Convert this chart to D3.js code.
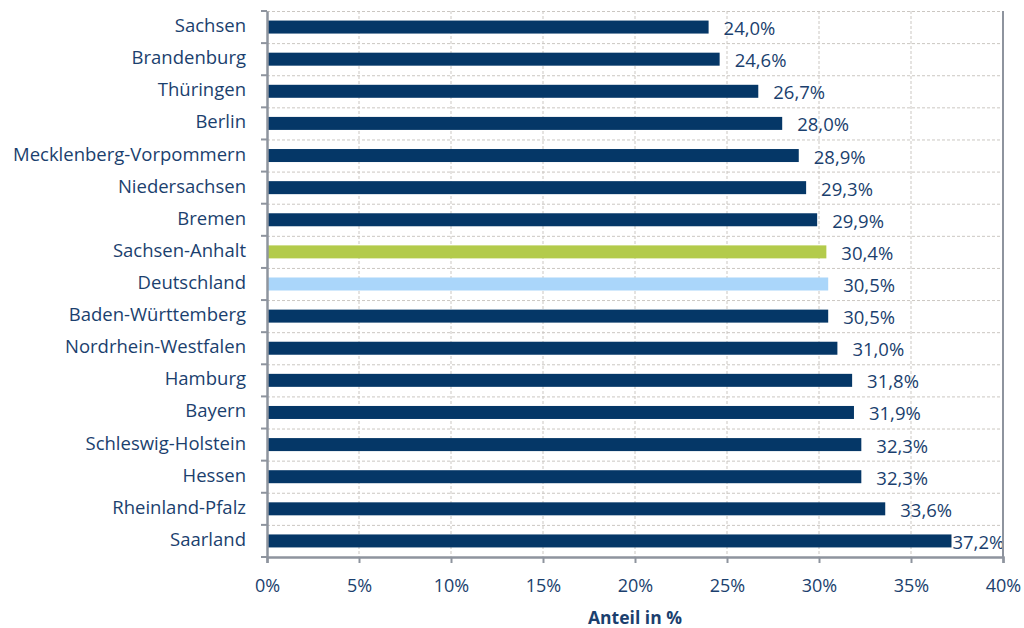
<!DOCTYPE html>
<html>
<head>
<meta charset="utf-8">
<script src="https://cdn.jsdelivr.net/npm/d3@7"></script>
<style>
  html, body { margin: 0; padding: 0; background: #fff; }
  svg { display: block; }
  text { font-family: "Open Sans", sans-serif; fill: #1b3f6e; }
</style>
</head>
<body>
<svg id="chart" width="1024" height="628"></svg>
<script>
// Anteil je Bundesland (in %)
const states = [
  "Sachsen", "Brandenburg", "Thüringen", "Berlin", "Mecklenberg-Vorpommern",
  "Niedersachsen", "Bremen", "Sachsen-Anhalt", "Deutschland", "Baden-Württemberg",
  "Nordrhein-Westfalen", "Hamburg", "Bayern", "Schleswig-Holstein", "Hessen",
  "Rheinland-Pfalz", "Saarland"
];
const shares = [
  24.0, 24.6, 26.7, 28.0, 28.9,
  29.3, 29.9, 30.4, 30.5, 30.5,
  31.0, 31.8, 31.9, 32.3, 32.3,
  33.6, 37.2
];
const xTicks = [0, 5, 10, 15, 20, 25, 30, 35, 40];
const highlight = { "Sachsen-Anhalt": "#b3cb4b", "Deutschland": "#aad6fa" };
const baseColor = "#053767";

const FONT = "'Open Sans', sans-serif";
const textColor = "#1b3f6e";
const svg = d3.select("#chart");
const m = { left: 267, right: 1003, top: 11, bottom: 557 };

const x = d3.scaleLinear().domain([0, 40]).range([m.left, m.right]);
const y = d3.scaleBand().domain(states).range([m.top, m.bottom]).paddingInner(0).paddingOuter(0);

const fmt = v => d3.format(".1f")(v).replace(".", ",") + "%";

// Gitternetz
const grid = svg.append("g");
grid.selectAll("line.v").data(xTicks.slice(1, -1)).join("line")
  .attr("x1", d => x(d)).attr("x2", d => x(d))
  .attr("y1", m.top).attr("y2", m.bottom)
  .attr("stroke", "#cbc7c2").attr("stroke-width", 1).attr("stroke-dasharray", "3,2");
const bounds = states.map(s => y(s));
grid.selectAll("line.h").data(bounds).join("line")
  .attr("x1", m.left).attr("x2", m.right)
  .attr("y1", d => d + 0.5).attr("y2", d => d + 0.5)
  .attr("stroke", "#cbc7c2").attr("stroke-width", 1).attr("stroke-dasharray", "3,2");

// Balken
const barH = 13;
svg.append("g").selectAll("rect").data(states).join("rect")
  .attr("x", x(0))
  .attr("y", (d) => y(d) + y.bandwidth() / 2 - barH / 2)
  .attr("width", (d, i) => x(shares[i]) - x(0))
  .attr("height", barH)
  .attr("fill", d => highlight[d] || baseColor);

// Wertebeschriftungen
svg.append("g").selectAll("text").data(states).join("text")
  .attr("x", (d, i) => shares[i] > 36 ? x(shares[i]) + 1 : x(shares[i]) + 15)
  .attr("y", d => y(d) + y.bandwidth() / 2 + 8)
  .attr("font-size", 18.5)
  .text((d, i) => fmt(shares[i]));

// Rahmen rechts
svg.append("line")
  .attr("x1", m.right).attr("x2", m.right).attr("y1", m.top).attr("y2", m.bottom)
  .attr("stroke", "#8e949e").attr("stroke-width", 2);

// Achsen
const axisColor = "#8e949e";
const yAxis = svg.append("g").attr("transform", `translate(${m.left},0)`)
  .call(d3.axisLeft(y).tickSize(0).tickPadding(21));
yAxis.select(".domain").attr("stroke", axisColor).attr("stroke-width", 2.5);
yAxis.selectAll("text").attr("font-size", 18.5).attr("fill", textColor)
  .attr("font-family", FONT).attr("dy", 5);
// Teilstriche zwischen den Kategorien
yAxis.selectAll("line.sep").data(bounds.concat([m.bottom])).join("line")
  .attr("x1", -6).attr("x2", 0)
  .attr("y1", d => d).attr("y2", d => d)
  .attr("stroke", axisColor).attr("stroke-width", 2);

const xAxis = svg.append("g").attr("transform", `translate(0,${m.bottom})`)
  .call(d3.axisBottom(x).tickValues(xTicks).tickSize(6).tickPadding(12).tickFormat(d => d + "%"));
xAxis.select(".domain").attr("stroke", axisColor).attr("stroke-width", 2.5);
xAxis.selectAll("line").attr("stroke", axisColor).attr("stroke-width", 2);
xAxis.selectAll("text").attr("font-size", 18).attr("fill", textColor)
  .attr("font-family", FONT).attr("dy", 0).attr("y", 35);

// Achsentitel
svg.append("text")
  .attr("x", (m.left + m.right) / 2).attr("y", 624)
  .attr("text-anchor", "middle").attr("font-size", 17.5).attr("font-weight", "bold")
  .text("Anteil in %");
</script>
</body>
</html>
